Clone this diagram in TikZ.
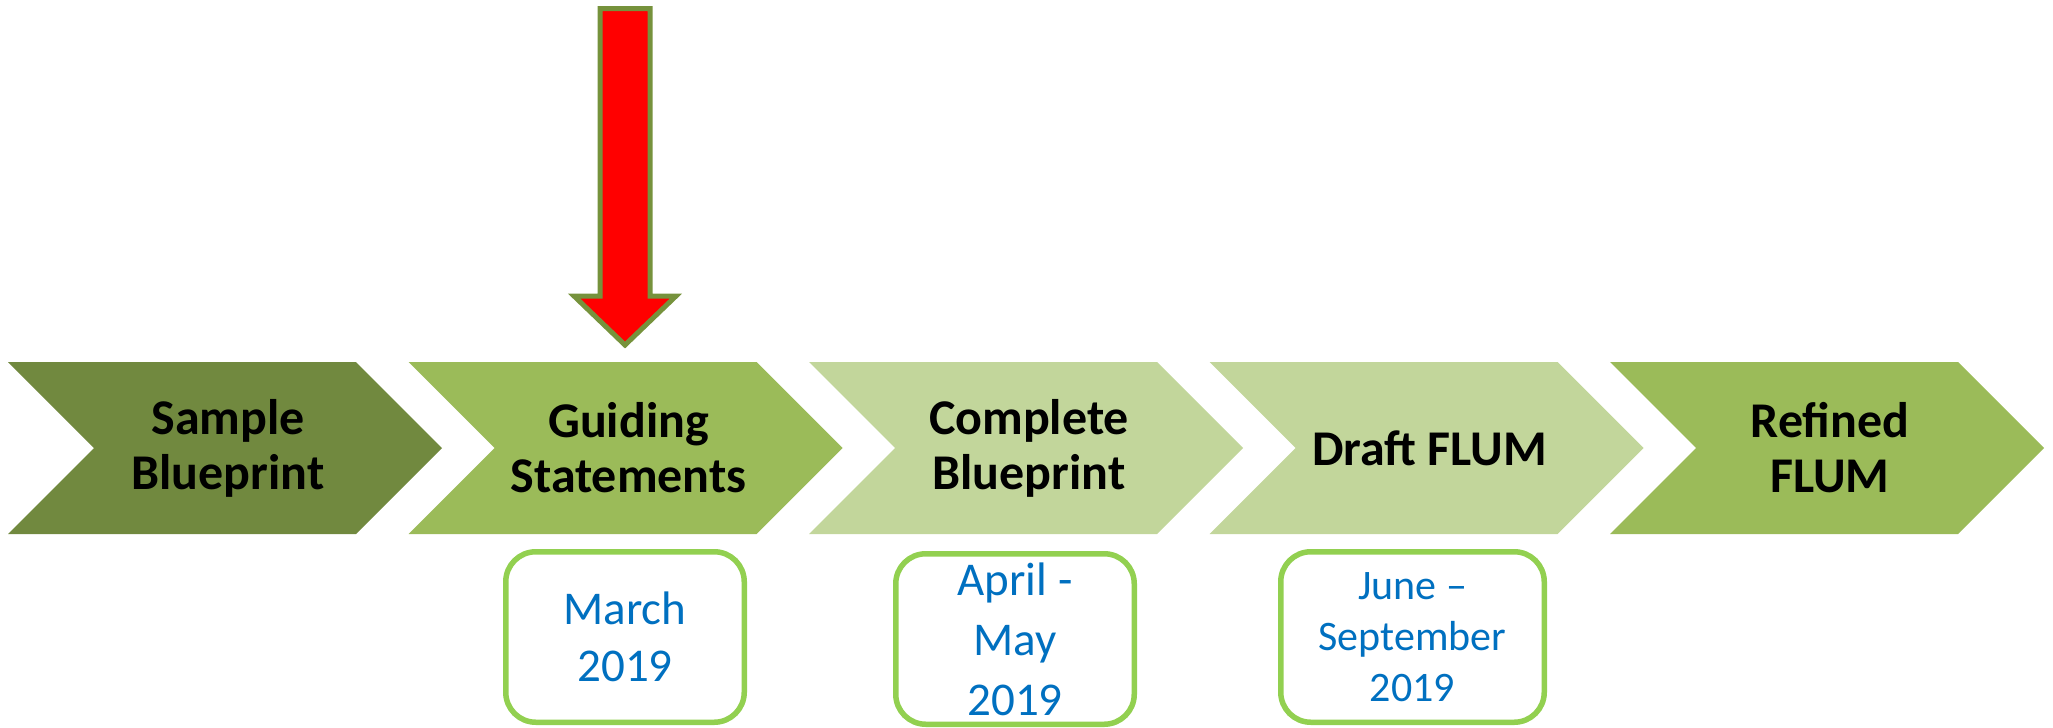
\documentclass[tikz,border=0pt]{standalone}
\usepackage{fontspec}
\setmainfont{Carlito}
\definecolor{cdark}{RGB}{113,137,63}
\definecolor{cmid}{RGB}{155,187,89}
\definecolor{clight}{RGB}{194,214,155}
\definecolor{boxgreen}{RGB}{146,208,80}
\definecolor{datetext}{RGB}{0,112,192}
\definecolor{arrowedge}{RGB}{118,146,60}
\begin{document}
\begin{tikzpicture}[x=1pt,y=-1pt,
  chevtext/.style={font=\fontsize{50}{55}\selectfont\bfseries, text=black, align=center, inner sep=0pt},
  datebox/.style={draw=boxgreen, line width=5.5pt, rounded corners=30pt, fill=white,
     minimum height=170.5pt, align=center, text=datetext, inner sep=0pt},
]
\useasboundingbox (0,0) rectangle (2053,728);
% chevrons
\foreach \i/\col in {0/cdark,1/cmid,2/clight,3/clight,4/cmid}{
  \fill[\col] ({8+400.5*\i},362) -- ({356+400.5*\i},362) -- ({442+400.5*\i},448)
     -- ({356+400.5*\i},534) -- ({8+400.5*\i},534) -- ({94+400.5*\i},448) -- cycle;
}
\node[chevtext] (c1) at (228,448) {Sample\\Blueprint};
\node[chevtext] (c2) at (628.5,448) {Guiding\\Statements};
\node[chevtext] (c3) at (1029,448) {Complete\\Blueprint};
\node[chevtext] (c4) at (1429.5,448) {Draft FLUM};
\node[chevtext] (c5) at (1830,448) {Refined\\FLUM};
% red arrow
\draw[arrowedge, fill=red, line width=5pt, miter limit=10]
  (600,8.5) -- (650,8.5) -- (650,296) -- (676,296) -- (625,345) -- (574,296) -- (600,296) -- cycle;
\coordinate (atip) at (625,345);
% date boxes
\node[datebox, minimum width=238.5pt, font=\fontsize{47}{57}\selectfont] (d1) at (625,637) {March\\2019};
\node[datebox, minimum width=238.5pt, font=\fontsize{47}{60}\selectfont] (d2) at (1015,639) {April -\\May\\2019};
\node[datebox, minimum width=263.5pt, font=\fontsize{42}{51}\selectfont] (d3) at (1412.5,637) {June --\\September\\2019};
\end{tikzpicture}
\end{document}
